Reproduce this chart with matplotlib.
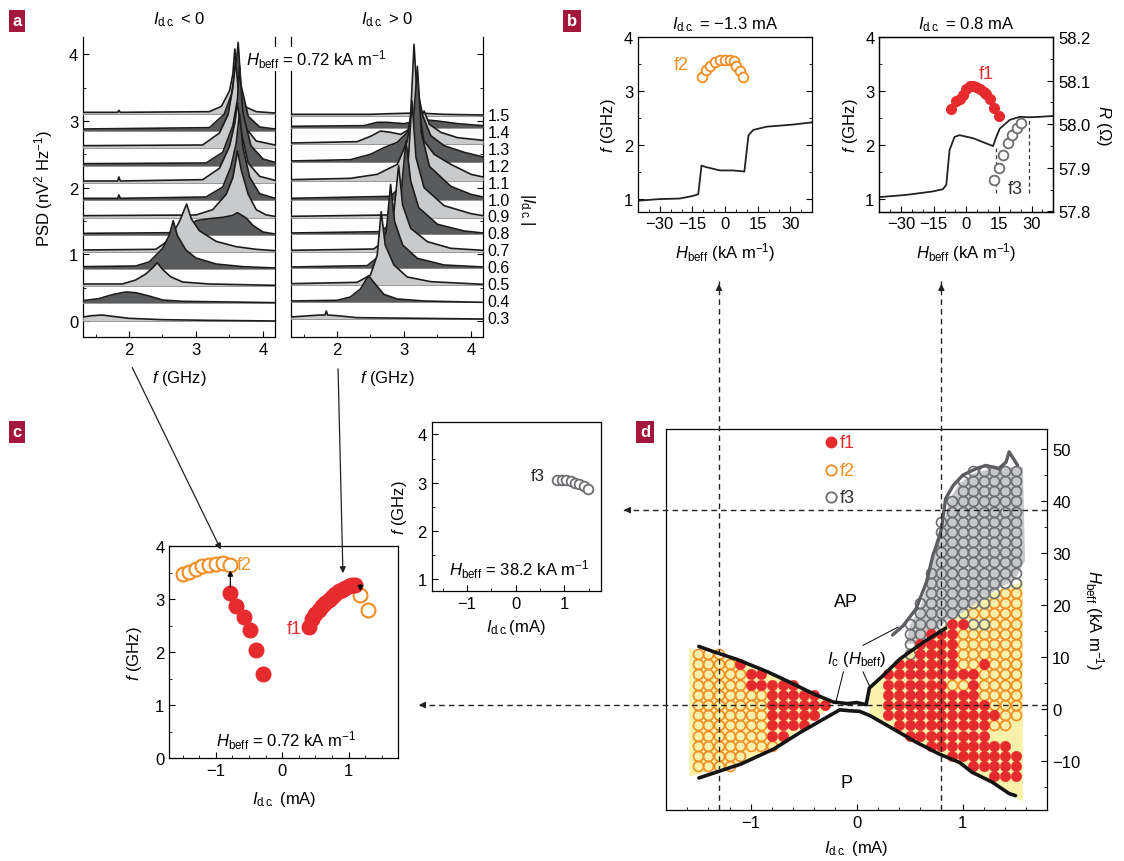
import numpy as np
import matplotlib
matplotlib.use('Agg')
import matplotlib.pyplot as plt
from matplotlib.patches import Polygon, FancyArrowPatch
from matplotlib.lines import Line2D
from matplotlib.ticker import MultipleLocator

plt.rcParams['font.family'] = ['Liberation Sans', 'DejaVu Sans']
plt.rcParams['mathtext.fontset'] = 'custom'
plt.rcParams['mathtext.rm'] = 'Liberation Sans'
plt.rcParams['mathtext.it'] = 'Liberation Sans:italic'
plt.rcParams['mathtext.default'] = 'regular'
plt.rcParams['font.size'] = 12
plt.rcParams['xtick.direction'] = 'in'
plt.rcParams['ytick.direction'] = 'in'
plt.rcParams['xtick.major.size'] = 4
plt.rcParams['ytick.major.size'] = 4
plt.rcParams['xtick.minor.size'] = 2.5
plt.rcParams['ytick.minor.size'] = 2.5
plt.rcParams['axes.linewidth'] = 0.9

RED = '#e62b2f'
ORANGE = '#f18d22'
GRAY = '#6d6e71'
GRAYBG = '#c7c8ca'
YELLOW = '#f8f1aa'
DARK = '#5a5b5d'
LIGHT = '#c9cacc'
LABELBG = '#a3173b'

# ---------------- panel a : spectra (f in GHz, PSD above the trace baseline)
currents = ['0.3', '0.4', '0.5', '0.6', '0.7', '0.8', '0.9', '1.0', '1.1', '1.2', '1.3', '1.4', '1.5']
neg_offsets = [0.0, 0.275, 0.525, 0.785, 1.035, 1.285, 1.55, 1.81, 2.07, 2.33, 2.6, 2.85, 3.1]
pos_offsets = [0.03, 0.28, 0.54, 0.79, 1.04, 1.3, 1.55, 1.82, 2.1, 2.38, 2.65, 2.9, 3.07]

neg_traces = [
    [(1.31, 0.06), (1.45, 0.08), (1.6, 0.09), (1.75, 0.07), (1.84, 0.06), (2.0, 0.04), (2.5, 0.02), (3.2, 0.01), (4.18, 0.0)],
    [(1.31, 0.03), (1.55, 0.06), (1.75, 0.12), (1.95, 0.16), (2.1, 0.15), (2.3, 0.1), (2.5, 0.04), (2.8, 0.02), (4.18, 0.0)],
    [(1.31, 0.03), (1.9, 0.03), (2.1, 0.09), (2.25, 0.18), (2.35, 0.27), (2.42, 0.35), (2.5, 0.25), (2.62, 0.14), (2.8, 0.06), (3.2, 0.03), (4.18, 0.01)],
    [(1.31, 0.03), (2.1, 0.04), (2.3, 0.1), (2.5, 0.3), (2.6, 0.5), (2.66, 0.72), (2.72, 0.5), (2.85, 0.28), (3.0, 0.16), (3.3, 0.07), (3.7, 0.03), (4.18, 0.01)],
    [(1.31, 0.03), (2.4, 0.04), (2.6, 0.18), (2.75, 0.45), (2.86, 0.72), (2.93, 0.5), (3.05, 0.32), (3.3, 0.16), (3.6, 0.08), (3.9, 0.04), (4.18, 0.02)],
    [(1.31, 0.03), (2.75, 0.04), (2.9, 0.12), (3.0, 0.22), (3.2, 0.25), (3.4, 0.27), (3.55, 0.3), (3.62, 0.34), (3.75, 0.26), (3.85, 0.15), (4.0, 0.05), (4.18, 0.02)],
    [(1.31, 0.03), (3.0, 0.04), (3.25, 0.12), (3.45, 0.35), (3.55, 0.6), (3.62, 1.0), (3.68, 0.7), (3.78, 0.35), (3.9, 0.12), (4.05, 0.04), (4.18, 0.02)],
    [(1.31, 0.03), (1.83, 0.03), (1.85, 0.08), (1.87, 0.03), (3.15, 0.05), (3.4, 0.2), (3.52, 0.5), (3.6, 0.85), (3.65, 1.3), (3.7, 0.8), (3.8, 0.35), (3.95, 0.1), (4.18, 0.03)],
    [(1.31, 0.03), (1.83, 0.03), (1.85, 0.09), (1.87, 0.03), (3.1, 0.05), (3.35, 0.22), (3.5, 0.55), (3.58, 0.9), (3.62, 1.2), (3.68, 0.75), (3.78, 0.3), (3.95, 0.1), (4.18, 0.04)],
    [(1.31, 0.03), (3.15, 0.04), (3.4, 0.2), (3.55, 0.6), (3.62, 1.0), (3.65, 1.5), (3.7, 0.8), (3.82, 0.3), (4.0, 0.1), (4.18, 0.05)],
    [(1.31, 0.03), (3.1, 0.04), (3.35, 0.22), (3.48, 0.5), (3.55, 0.9), (3.59, 1.3), (3.64, 0.8), (3.74, 0.3), (3.9, 0.1), (4.18, 0.04)],
    [(1.31, 0.03), (3.2, 0.05), (3.42, 0.25), (3.53, 0.55), (3.6, 1.0), (3.63, 1.33), (3.67, 0.7), (3.78, 0.22), (3.95, 0.06), (4.18, 0.03)],
    [(1.31, 0.03), (1.83, 0.03), (1.85, 0.06), (1.87, 0.03), (3.2, 0.04), (3.38, 0.12), (3.5, 0.35), (3.55, 0.6), (3.58, 0.98), (3.62, 0.5), (3.72, 0.12), (3.9, 0.04), (4.18, 0.02)],
]

pos_traces = [
    [(1.31, 0.03), (1.6, 0.05), (1.75, 0.06), (1.82, 0.06), (1.84, 0.12), (1.86, 0.06), (2.0, 0.05), (2.3, 0.02), (4.18, 0.0)],
    [(1.31, 0.02), (2.0, 0.03), (2.2, 0.08), (2.35, 0.2), (2.47, 0.4), (2.55, 0.3), (2.7, 0.12), (2.9, 0.05), (3.3, 0.02), (4.18, 0.0)],
    [(1.31, 0.02), (2.3, 0.04), (2.5, 0.15), (2.6, 0.45), (2.66, 1.1), (2.72, 0.6), (2.85, 0.3), (3.05, 0.12), (3.4, 0.05), (4.18, 0.01)],
    [(1.31, 0.02), (2.45, 0.04), (2.65, 0.2), (2.74, 0.6), (2.8, 1.26), (2.86, 0.7), (2.98, 0.35), (3.2, 0.15), (3.6, 0.05), (4.18, 0.02)],
    [(1.31, 0.02), (2.55, 0.04), (2.75, 0.2), (2.85, 0.6), (2.92, 1.29), (2.98, 0.7), (3.1, 0.35), (3.35, 0.15), (3.7, 0.05), (4.18, 0.02)],
    [(1.31, 0.02), (2.65, 0.04), (2.85, 0.2), (2.96, 0.65), (3.03, 1.4), (3.1, 0.8), (3.22, 0.4), (3.5, 0.15), (3.9, 0.05), (4.18, 0.02)],
    [(1.31, 0.02), (2.75, 0.04), (2.95, 0.25), (3.06, 0.8), (3.12, 1.75), (3.18, 0.9), (3.3, 0.45), (3.6, 0.18), (4.0, 0.06), (4.18, 0.03)],
    [(1.31, 0.02), (2.8, 0.05), (3.0, 0.25), (3.12, 0.9), (3.2, 2.0), (3.26, 1.0), (3.38, 0.5), (3.7, 0.2), (4.0, 0.08), (4.18, 0.04)],
    [(1.31, 0.02), (2.2, 0.04), (2.6, 0.1), (2.9, 0.25), (3.05, 0.6), (3.1, 1.0), (3.15, 2.05), (3.2, 1.2), (3.3, 0.6), (3.45, 0.4), (3.7, 0.25), (4.0, 0.1), (4.18, 0.06)],
    [(1.31, 0.02), (2.2, 0.04), (2.5, 0.12), (2.7, 0.22), (2.9, 0.3), (3.05, 0.45), (3.15, 0.8), (3.22, 1.0), (3.28, 0.7), (3.4, 0.4), (3.6, 0.25), (3.9, 0.15), (4.18, 0.08)],
    [(1.31, 0.02), (2.3, 0.04), (2.5, 0.12), (2.65, 0.2), (2.8, 0.18), (2.95, 0.15), (3.2, 0.3), (3.3, 0.5), (3.38, 0.3), (3.55, 0.18), (3.8, 0.1), (4.18, 0.06)],
    [(1.31, 0.02), (2.4, 0.03), (2.6, 0.08), (2.75, 0.08), (3.0, 0.06), (3.3, 0.12), (3.5, 0.1), (3.8, 0.06), (4.18, 0.03)],
    [(1.31, 0.03), (2.5, 0.03), (2.8, 0.04), (3.2, 0.05), (3.6, 0.03), (4.18, 0.02)],
]

# ---------------- panel b
bl_H = [-40, -30, -20.8, -14.6, -12.3, -10.8, -8.5, -2.3, 3.8, 8.9, 10.8, 13, 19.2, 31.5, 40]
bl_f = [0.97, 1.0, 1.01, 1.06, 1.09, 1.62, 1.59, 1.53, 1.53, 1.51, 2.18, 2.28, 2.34, 2.38, 2.42]
bl_f2_H = [-10.8, -8.9, -6.9, -4.6, -2.3, 0, 2.3, 4.2, 5.1, 6.9, 8.5]
bl_f2_f = [3.26, 3.38, 3.47, 3.54, 3.57, 3.58, 3.58, 3.55, 3.46, 3.37, 3.26]

br_H = [-40, -27.7, -15.4, -10.8, -9.2, -7.7, -5.4, -3.1, 3.1, 9.2, 12.3, 13.8, 15.4, 20, 24.6, 29.2, 33.8, 40]
br_R = [57.833, 57.838, 57.846, 57.851, 57.861, 57.941, 57.971, 57.975, 57.968, 57.956, 57.95,
        57.971, 57.99, 58.01, 58.017, 58.016, 58.017, 58.019]
br_f1_H = [-7.2, -4.9, -3.1, -1.5, 0, 1.5, 3.1, 4.6, 6.2, 8, 9.2, 11.1, 12.8, 15.1]
br_f1_f = [2.66, 2.82, 2.86, 2.92, 3.04, 3.09, 3.09, 3.08, 3.03, 2.98, 2.95, 2.85, 2.69, 2.53]
br_f3_H = [12.6, 15.1, 16.9, 19.2, 21.2, 23.1, 25.1]
br_f3_f = [1.35, 1.57, 1.81, 2.03, 2.18, 2.31, 2.40]
br_dash_H = [13.8, 28.9]
br_dash_top = [1.94, 2.49]

# ---------------- panel c
c_f2_I = [-1.5, -1.4, -1.3, -1.2, -1.1, -1.0, -0.89, -0.78, 1.18, 1.29]
c_f2_f = [3.47, 3.52, 3.57, 3.62, 3.65, 3.67, 3.68, 3.65, 3.08, 2.79]
c_f1_I = [-0.78, -0.69, -0.58, -0.48, -0.39, -0.29,
          0.40, 0.45, 0.50, 0.55, 0.60, 0.65, 0.70, 0.75, 0.80, 0.85, 0.90, 0.95, 1.00, 1.05, 1.10]
c_f1_f = [3.12, 2.88, 2.67, 2.42, 2.04, 1.59,
          2.48, 2.62, 2.72, 2.80, 2.87, 2.93, 2.98, 3.05, 3.10, 3.15, 3.18, 3.22, 3.25, 3.27, 3.27]

# inset, H = 38.2 kA/m
i_f3_I = [0.86, 0.95, 1.04, 1.13, 1.22, 1.31, 1.40, 1.49]
i_f3_f = [3.06, 3.06, 3.05, 3.03, 3.00, 2.97, 2.93, 2.86]

# ---------------- panel d : state map, columns I (mA), rows Hbeff (kA/m)
d_I = [-1.5, -1.4, -1.3, -1.2, -1.1, -1.0, -0.9, -0.8, -0.7, -0.6, -0.5, -0.4, -0.3, -0.2, -0.1, 0.0,
       0.1, 0.2, 0.3, 0.4, 0.5, 0.6, 0.7, 0.8, 0.9, 1.0, 1.1, 1.2, 1.3, 1.4, 1.5]
d_H = [45.8, 43.8, 41.9, 39.9, 37.9, 36.0, 34.0, 32.1, 30.1, 28.2, 26.2, 24.2, 22.3, 20.3, 18.4, 16.4,
       14.4, 12.5, 10.5, 8.6, 6.6, 4.6, 2.7, 0.7, -1.2, -3.2, -5.2, -7.1, -9.1, -11.0, -13.0]
# r = f1, o = f2, g = f3
d_map = [
    "....." "....." "....." "....." "....." ".gggg" "g",
    "....." "....." "....." "....." "....." "ggggg" "g",
    "....." "....." "....." "....." "....." "ggggg" "g",
    "....." "....." "....." "....." "....g" "ggggg" "g",
    "....." "....." "....." "....." "....g" "ggggg" "g",
    "....." "....." "....." "....." "...gg" "ggggg" "g",
    "....." "....." "....." "....." "...gg" "ggggg" "g",
    "....." "....." "....." "....." "...gg" "ggggg" "g",
    "....." "....." "....." "....." "...gg" "ggggg" "g",
    "....." "....." "....." "....." "...gg" "ggggg" "g",
    "....." "....." "....." "....." "..ggg" "ggggg" "g",
    "....." "....." "....." "....." "..ggg" "ggggg" "g",
    "....." "....." "....." "....." "..ggg" "ggggo" "o",
    "....." "....." "....." "....." ".gggg" "gggoo" "o",
    "....." "....." "....." "....." ".gggg" "goooo" "o",
    "....." "....." "....." "....." "ggggr" "rggoo" "o",
    "....." "....." "....." "....." "ggrrr" "ooooo" "o",
    "....." "....." "....." "....." "grrrr" "ooooo" "o",
    "ooo.." "....." "....." "....." "grrrr" "ooooo" "o",
    "oooor" "....." "....." "....r" "rrrrr" "ooroo" "o",
    "ooooo" "rr..." "....." "...rr" "rrrrr" "rrooo" "o",
    "ooooo" "rrrrr" "....." "...rr" "rrrro" "orooo" "o",
    "ooooo" "oorrr" "rr..." "...rr" "rrrrr" "rrooo" "o",
    "ooooo" "oorrr" "rrr.." "...rr" "rrrrr" "rrroo" "o",
    "ooooo" "oorrr" "rr..." "...rr" "rrrrr" "rrrro" "o",
    "ooooo" "oorrr" "r...." "....r" "rrrrr" "rrroo" ".",
    "ooooo" "oorr." "....." "....." "rrrrr" "rrr.." ".",
    "ooooo" "ooo.." "....." "....." "..rrr" "rrrrr" ".",
    "ooooo" "....." "....." "....." "....r" "rrrrr" "r",
    "oooo." "....." "....." "....." "....." ".rrrr" "r",
    "....." "....." "....." "....." "....." "...rr" "r",
]

d_yel_left = [(-1.58, 11.6), (-1.2, 9.6), (-0.8, 7.0), (-0.22, 0.6), (-0.8, -7.8), (-1.2, -11.0), (-1.58, -13.0)]
d_yel_right = [(0.12, 4.2), (0.12, -1.3), (0.34, -3.8), (0.78, -8.7), (1.09, -12.2), (1.44, -16.3), (1.57, -17.8),
               (1.57, 24.5), (1.25, 22.0), (1.0, 18.5), (0.85, 16.5), (0.63, 12.8), (0.41, 9.6), (0.25, 6.4)]
d_gray_bg = [(0.47, 12.5), (0.5, 16.0), (0.6, 19.5), (0.66, 23.4), (0.72, 28.8), (0.8, 34.0), (0.88, 40.4),
             (0.97, 43.3), (1.09, 45.2), (1.28, 46.2), (1.57, 46.5), (1.59, 28.5), (1.5, 25.0), (1.25, 22.0),
             (1.0, 18.5), (0.85, 17.0), (0.7, 14.0), (0.6, 12.5)]

d_up_I = [-1.49, -1.34, -1.13, -0.84, -0.63, -0.41, -0.22, -0.09, 0.0, 0.09, 0.12, 0.25, 0.41, 0.63, 0.84]
d_up_H = [12.0, 10.9, 9.5, 7.1, 5.1, 2.9, 1.3, 1.0, 1.2, 0.8, 4.0, 6.4, 9.6, 12.8, 15.5]
d_lo_I = [-1.49, -1.09, -0.78, -0.53, -0.28, -0.16, -0.05, 0.03, 0.125, 0.34, 0.56, 0.78, 0.97, 1.09, 1.28, 1.44, 1.5]
d_lo_H = [-13.3, -10.6, -7.7, -4.5, -1.6, -0.2, -0.4, -0.5, -1.3, -3.8, -6.4, -8.7, -10.3, -12.2, -14.1, -16.3, -16.7]
d_gl_I = [0.34, 0.44, 0.56, 0.66, 0.72, 0.77, 0.8, 0.84, 0.91, 1.0, 1.13, 1.22, 1.34, 1.41, 1.44, 1.52]
d_gl_H = [14.2, 16.0, 19.2, 24.4, 29.5, 32.4, 34.6, 40.4, 42.9, 44.9, 46.2, 46.8, 46.2, 47.4, 49.4, 46.8]

cut_I = [-1.3, 0.8]
cut_H = [38.2, 0.72]

W, H = 1124, 862
fig = plt.figure(figsize=(W / 100, H / 100), dpi=100)


def px_axes(x0, y0, x1, y1):
    return fig.add_axes([x0 / W, 1 - y1 / H, (x1 - x0) / W, (y1 - y0) / H])


def to_fig(ax, x, y):
    return fig.transFigure.inverted().transform(ax.transData.transform((x, y)))


DC = r'\mathrm{d\!.\!c\!.}'
IDC = r'$\mathit{I}_{' + DC + '}$'
HB = r'$\mathit{H}_{\mathrm{beff}}$'
FGHZ = r'$\mathit{f}$ (GHz)'

# ---------------- a
def draw_spectra(ax, traces, offsets):
    for i, (pts, off) in enumerate(zip(traces, offsets)):
        f = [p[0] for p in pts]
        y = [off + p[1] for p in pts]
        shade = LIGHT if i % 2 == 0 else DARK
        z = 60 - 2 * i
        ax.fill_between(f, off, y, color=shade, lw=0, zorder=z)
        ax.plot([f[0], f[-1]], [off, off], color='#8c8c8c', lw=0.6, zorder=z)
        ax.plot(f, y, color='#1c1c1c', lw=1.2, zorder=z + 1)
    ax.set_xlim(1.313, 4.18)
    ax.set_ylim(-0.24, 4.26)
    ax.xaxis.set_major_locator(MultipleLocator(1))
    ax.xaxis.set_minor_locator(MultipleLocator(0.5))
    ax.yaxis.set_major_locator(MultipleLocator(1))
    ax.yaxis.set_minor_locator(MultipleLocator(0.5))
    ax.spines['top'].set_visible(False)
    ax.set_xlabel(FGHZ, labelpad=8)


ax_al = px_axes(83, 38, 275, 338)
draw_spectra(ax_al, neg_traces, neg_offsets)
ax_al.set_ylabel(r'PSD (nV$^2$ Hz$^{-1}$)', labelpad=10)
ax_al.set_title(IDC + ' < 0', fontsize=12, pad=10)

ax_ar = px_axes(291, 38, 483, 338)
draw_spectra(ax_ar, pos_traces, pos_offsets)
ax_ar.tick_params(axis='y', which='both', left=False, right=True, labelleft=False)
ax_ar.set_title(IDC + ' > 0', fontsize=12, pad=10)
lab_y = np.linspace(0.04, 3.08, len(currents))
for s, yy in zip(currents, lab_y):
    ax_ar.text(4.25, yy, s, ha='left', va='center', fontsize=11.5, clip_on=False)
ax_ar.text(4.84, 1.7, r'|$\mathit{I}_{' + DC + '}$|', rotation=270, ha='center', va='center',
           fontsize=12, clip_on=False)
fig.text(316 / W, 1 - 60 / H, HB + r' = 0.72 kA m$^{-1}$', ha='center', va='center', fontsize=12,
         bbox=dict(facecolor='white', edgecolor='none', pad=0.5))

# ---------------- b
ax_bl = px_axes(638, 38, 812, 212.5)
ax_bl.plot(bl_H, bl_f, color='#222222', lw=1.3)
ax_bl.plot(bl_f2_H, bl_f2_f, 'o', ms=7, mfc='white', mec=ORANGE, mew=1.3)
ax_bl.text(-20, 3.5, 'f2', color=ORANGE, fontsize=13, ha='center', va='center')
ax_bl.set_title(IDC + r' = $-$1.3 mA', fontsize=12, pad=6)

ax_br = px_axes(879.3, 38, 1053.3, 212.5)
ax_br.plot(br_f1_H, br_f1_f, 'o', ms=7, color=RED, mec=RED, zorder=4)
ax_br.plot(br_f3_H, br_f3_f, 'o', ms=7, mfc='white', mec=GRAY, mew=1.3, zorder=4)
ax_br.vlines(br_dash_H, 1.12, br_dash_top, colors='#333333', linestyles=(0, (3, 2.5)), lw=0.9, zorder=3)
ax_br.text(9.2, 3.32, 'f1', color=RED, fontsize=13, ha='center', va='center')
ax_br.text(22.3, 1.2, 'f3', color='#333333', fontsize=13, ha='center', va='center')
ax_br.set_title(IDC + ' = 0.8 mA', fontsize=12, pad=6)
ax_r = ax_br.twinx()
ax_r.plot(br_H, br_R, color='#222222', lw=1.3)
ax_r.set_ylim(57.8, 58.2)
ax_r.yaxis.set_major_locator(MultipleLocator(0.1))
ax_r.yaxis.set_minor_locator(MultipleLocator(0.05))
ax_r.tick_params(axis='y', which='both', direction='in')
ax_r.set_ylabel(r'$\mathit{R}$ ($\Omega$)', rotation=270, labelpad=16)

for ax in (ax_bl, ax_br):
    ax.set_xlim(-40, 40)
    ax.set_ylim(0.77, 4.0)
    ax.xaxis.set_major_locator(MultipleLocator(15))
    ax.xaxis.set_minor_locator(MultipleLocator(5))
    ax.yaxis.set_major_locator(MultipleLocator(1))
    ax.yaxis.set_minor_locator(MultipleLocator(0.5))
    ax.set_xticks([-30, -15, 0, 15, 30])
    ax.set_ylabel(FGHZ, labelpad=4)
    ax.set_xlabel(HB + r' (kA m$^{-1}$)', labelpad=6)
ax_bl.tick_params(axis='y', which='both', right=True)

# ---------------- c
ax_c = px_axes(169.3, 547.3, 398.3, 759.3)
ax_c.plot(c_f2_I, c_f2_f, 'o', ms=10, mfc='white', mec=ORANGE, mew=1.5, zorder=3)
ax_c.plot(c_f1_I, c_f1_f, 'o', ms=10.5, color=RED, mec=RED, zorder=4)
ax_c.annotate('', xy=(-0.78, 3.6), xytext=(-0.78, 3.17),
              arrowprops=dict(arrowstyle='-|>', color='k', lw=0.9, mutation_scale=8), zorder=6)
ax_c.annotate('', xy=(1.18, 3.1), xytext=(1.18, 3.33),
              arrowprops=dict(arrowstyle='-|>', color='k', lw=0.9, mutation_scale=8), zorder=6)
ax_c.text(-0.68, 3.66, 'f2', color=ORANGE, fontsize=13, va='center', ha='left')
ax_c.text(0.3, 2.44, 'f1', color=RED, fontsize=13, va='center', ha='right')
ax_c.text(0.06, 0.35, HB + r' = 0.72 kA m$^{-1}$', ha='center', va='center', fontsize=12)
ax_c.set_xlim(-1.7, 1.75)
ax_c.set_ylim(0, 4)
ax_c.xaxis.set_major_locator(MultipleLocator(1))
ax_c.xaxis.set_minor_locator(MultipleLocator(0.25))
ax_c.yaxis.set_major_locator(MultipleLocator(1))
ax_c.yaxis.set_minor_locator(MultipleLocator(0.5))
ax_c.set_xlabel(IDC + ' (mA)', labelpad=8)
ax_c.set_ylabel(FGHZ, labelpad=8)

# inset
ax_i = px_axes(431.7, 423.3, 600.7, 592.3)
ax_i.plot(i_f3_I, i_f3_f, 'o', ms=7, mfc='white', mec=GRAY, mew=1.3)
ax_i.text(0.6, 3.15, 'f3', fontsize=12, ha='right', va='center', color='#222222')
ax_i.text(0.08, 1.22, HB + r' = 38.2 kA m$^{-1}$', ha='center', va='center', fontsize=12)
ax_i.set_xlim(-1.73, 1.75)
ax_i.set_ylim(0.75, 4.25)
ax_i.xaxis.set_major_locator(MultipleLocator(1))
ax_i.xaxis.set_minor_locator(MultipleLocator(0.5))
ax_i.yaxis.set_major_locator(MultipleLocator(1))
ax_i.yaxis.set_minor_locator(MultipleLocator(0.5))
ax_i.set_xlabel(IDC + '(mA)', labelpad=4)
ax_i.set_ylabel(FGHZ, labelpad=6)

# ---------------- d
ax_d = px_axes(666, 430, 1047.3, 810.7)
ax_d.add_patch(Polygon(d_yel_left, closed=True, fc=YELLOW, ec='none', zorder=1))
ax_d.add_patch(Polygon(d_yel_right, closed=True, fc=YELLOW, ec='none', zorder=1))
ax_d.add_patch(Polygon(d_gray_bg, closed=True, fc=GRAYBG, ec='none', zorder=1))
pts = {'r': ([], []), 'o': ([], []), 'g': ([], [])}
for hv, row in zip(d_H, d_map):
    for iv, ch in zip(d_I, row):
        if ch in pts:
            pts[ch][0].append(iv)
            pts[ch][1].append(hv)
ax_d.plot(*pts['o'], 'o', ms=7.2, mfc='none', mec=ORANGE, mew=1.2, zorder=3)
ax_d.plot(*pts['g'], 'o', ms=7.2, mfc='none', mec=GRAY, mew=1.2, zorder=3)
ax_d.plot(*pts['r'], 'o', ms=7.6, color=RED, mec=RED, mew=0.3, zorder=4)
ax_d.plot(d_up_I, d_up_H, color='#141414', lw=2.6, zorder=5, solid_capstyle='round')
ax_d.plot(d_lo_I, d_lo_H, color='#141414', lw=2.6, zorder=5, solid_capstyle='round')
ax_d.plot(d_gl_I, d_gl_H, color='#5c5d60', lw=2.4, zorder=5, solid_capstyle='round')
ax_d.plot([-0.125, -0.2], [7.1, 1.0], color='k', lw=0.7, zorder=6)
ax_d.plot([0.06, 0.125], [7.1, 4.2], color='k', lw=0.7, zorder=6)
ax_d.plot([0.06, 0.39], [12.2, 15.7], color='k', lw=0.7, zorder=6)
ax_d.text(0.0, 9.6, r'$\mathit{I}_{\mathrm{c}}$ ($\mathit{H}_{\mathrm{beff}}$)', ha='center', va='center',
          fontsize=12, zorder=7)
ax_d.text(-0.1, 20.6, 'AP', ha='center', va='center', fontsize=13)
ax_d.text(-0.1, -14.2, 'P', ha='center', va='center', fontsize=13)
ax_d.plot([-0.24], [51.3], 'o', ms=7.5, color=RED, mec=RED)
ax_d.plot([-0.24], [45.9], 'o', ms=7.5, mfc='none', mec=ORANGE, mew=1.3)
ax_d.plot([-0.24], [40.7], 'o', ms=7.5, mfc='none', mec=GRAY, mew=1.3)
ax_d.text(-0.16, 51.3, 'f1', color=RED, fontsize=13, va='center')
ax_d.text(-0.16, 45.9, 'f2', color=ORANGE, fontsize=13, va='center')
ax_d.text(-0.16, 40.7, 'f3', color='#333333', fontsize=13, va='center')
ax_d.set_xlim(-1.8, 1.8)
ax_d.set_ylim(-19.4, 53.8)
ax_d.xaxis.set_major_locator(MultipleLocator(1))
ax_d.xaxis.set_minor_locator(MultipleLocator(0.2))
ax_d.yaxis.set_major_locator(MultipleLocator(10))
ax_d.yaxis.set_minor_locator(MultipleLocator(5))
ax_d.tick_params(axis='y', which='both', left=False, right=True, labelleft=False, labelright=True)
ax_d.yaxis.set_label_position('right')
ax_d.set_ylabel(HB + r' (kA m$^{-1}$)', rotation=270, labelpad=18)
ax_d.set_xlabel(IDC + ' (mA)', labelpad=6)

# dashed cuts through the map, running out to the panels they belong to
dash = (0, (4, 3))
for xv in cut_I:
    x0, y0 = to_fig(ax_d, xv, -19.4)
    y1 = 1 - 282 / H
    fig.add_artist(Line2D([x0, x0], [y0, y1], transform=fig.transFigure, ls=dash, lw=1, color='#222222'))
    fig.add_artist(FancyArrowPatch((x0, y1 - 0.012), (x0, y1), transform=fig.transFigure,
                                   arrowstyle='-|>', mutation_scale=9, lw=1, color='#222222'))
for hv, tip_px in zip(cut_H, [621, 416]):
    x0, y0 = to_fig(ax_d, 1.8, hv)
    x1 = tip_px / W
    fig.add_artist(Line2D([x0, x1], [y0, y0], transform=fig.transFigure, ls=dash, lw=1, color='#222222'))
    fig.add_artist(FancyArrowPatch((x1 + 0.01, y0), (x1, y0), transform=fig.transFigure,
                                   arrowstyle='-|>', mutation_scale=9, lw=1, color='#222222'))

# arrows from the spectra to panel c
for (xa, ya), (xb, yb) in [((131, 366), (222, 553)), ((338, 367), (343, 577))]:
    fig.add_artist(FancyArrowPatch((xa / W, 1 - ya / H), (xb / W, 1 - yb / H), transform=fig.transFigure,
                                   arrowstyle='-|>', mutation_scale=9, lw=0.9, color='#222222'))

# panel letters
for s, (xp, yp) in zip('abcd', [(17, 22), (572, 22), (17, 433), (645, 433)]):
    fig.text(xp / W, 1 - yp / H, s, color='white', fontweight='bold', fontsize=12, ha='center', va='center',
             bbox=dict(facecolor=LABELBG, edgecolor='none', pad=2.5))

fig.savefig('out.png', dpi=100)
